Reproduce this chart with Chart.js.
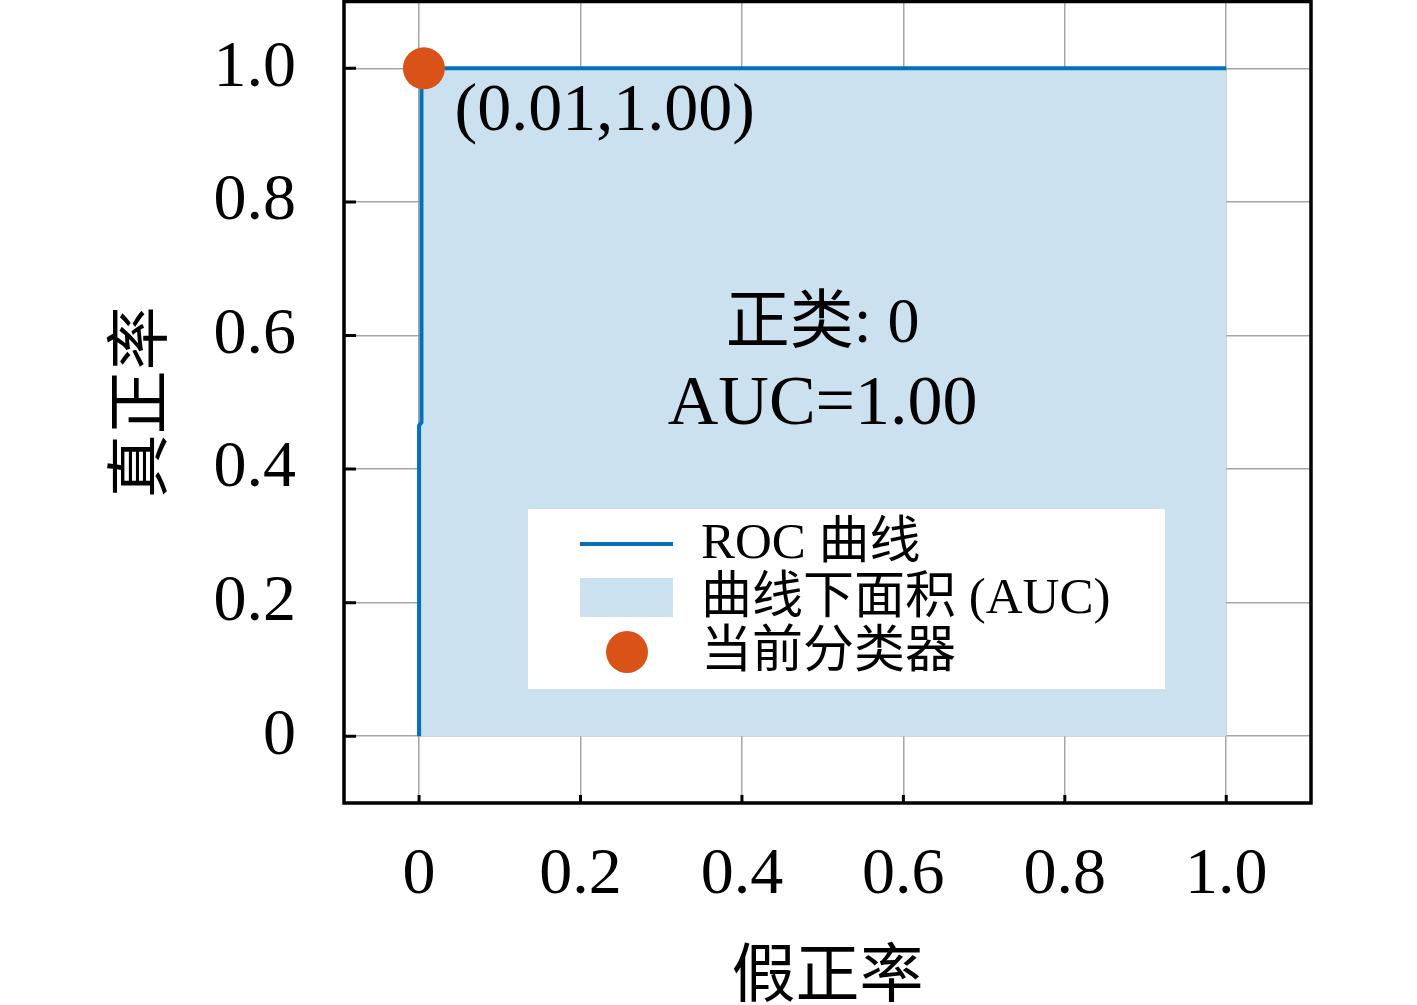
<!DOCTYPE html>
<html>
<head>
<meta charset="utf-8">
<script src="https://cdn.jsdelivr.net/npm/chart.js@4.4.1/dist/chart.umd.min.js"></script>
<style>
html, body { margin: 0; padding: 0; background: #ffffff; }
</style>
</head>
<body>
<canvas id="roc" width="1417" height="1005"></canvas>
<script>
// dados da curva ROC
const fpr = [0, 0, 0.003, 0.003, 1.0];
const tpr = [0, 0.465, 0.47, 1.0, 1.0];
const pontoX = [0.006];
const pontoY = [1.0];
const ticksX = [0, 0.2, 0.4, 0.6, 0.8, 1.0];
const ticksY = [0, 0.2, 0.4, 0.6, 0.8, 1.0];
const rotulos = ['ROC 曲线', '曲线下面积 (AUC)', '当前分类器'];
const textoClasse = ['正类: 0', 'AUC=1.00'];
const textoPonto = '(0.01,1.00)';

const corLinha = '#0072bd';
const corArea = '#cbe1f0';
const corPonto = '#d95319';
const serif = "'Liberation Serif', 'Noto Sans CJK SC'";

function rotuloTick(v) {
    return v === 0 ? '0' : v.toFixed(1);
}

const decoracao = {
    id: 'decoracao',
    afterDatasetsDraw(chart) {
        const ctx = chart.ctx;
        const x = chart.scales.x;
        const y = chart.scales.y;
        ctx.save();

        // textos dentro do grafico
        ctx.fillStyle = '#000000';
        ctx.textAlign = 'center';
        ctx.textBaseline = 'middle';
        ctx.font = '64px ' + serif;
        ctx.fillText(textoClasse[0], x.getPixelForValue(0.5), y.getPixelForValue(0.615));
        ctx.font = '70px ' + serif;
        ctx.fillText(textoClasse[1], x.getPixelForValue(0.5), y.getPixelForValue(0.495));
        ctx.textAlign = 'left';
        ctx.font = '68px ' + serif;
        ctx.fillText(textoPonto, x.getPixelForValue(0.044), y.getPixelForValue(0.935));

        // legenda
        ctx.fillStyle = '#ffffff';
        ctx.fillRect(528, 509, 637, 180);
        ctx.strokeStyle = corLinha;
        ctx.lineWidth = 4;
        ctx.beginPath();
        ctx.moveTo(580, 544);
        ctx.lineTo(673, 544);
        ctx.stroke();
        ctx.fillStyle = corArea;
        ctx.fillRect(580, 578, 93, 39);
        ctx.fillStyle = corPonto;
        ctx.beginPath();
        ctx.arc(627, 652, 21, 0, Math.PI * 2);
        ctx.fill();
        ctx.fillStyle = '#000000';
        ctx.font = '51px ' + serif;
        ctx.textAlign = 'left';
        ctx.fillText(rotulos[0], 701, 545);
        ctx.fillText(rotulos[1], 701, 600);
        ctx.fillText(rotulos[2], 701, 654);
        ctx.restore();
    },
    afterDraw(chart) {
        const ctx = chart.ctx;
        const a = chart.chartArea;
        const x = chart.scales.x;
        const y = chart.scales.y;
        ctx.save();
        ctx.strokeStyle = '#000000';
        ctx.lineWidth = 3;
        ctx.beginPath();
        ticksY.forEach(v => {
            const py = y.getPixelForValue(v);
            ctx.moveTo(a.left, py);
            ctx.lineTo(a.left + 12, py);
        });
        ticksX.forEach(v => {
            const px = x.getPixelForValue(v);
            ctx.moveTo(px, a.bottom);
            ctx.lineTo(px, a.bottom - 8);
        });
        ctx.stroke();
        ctx.lineWidth = 3.5;
        ctx.strokeRect(a.left, a.top, a.right - a.left, a.bottom - a.top);
        ctx.restore();
    }
};

new Chart(document.getElementById('roc'), {
    type: 'scatter',
    data: {
        datasets: [{
            label: rotulos[2],
            data: pontoX.map((v, i) => ({ x: v, y: pontoY[i] })),
            backgroundColor: corPonto,
            borderWidth: 0,
            pointRadius: 21,
            order: 0
        }, {
            label: rotulos[0],
            data: fpr.map((v, i) => ({ x: v, y: tpr[i] })),
            showLine: true,
            borderColor: corLinha,
            borderWidth: 4,
            backgroundColor: corArea,
            fill: 'origin',
            pointRadius: 0,
            tension: 0,
            order: 1
        }]
    },
    options: {
        responsive: false,
        animation: false,
        layout: {
            autoPadding: false,
            padding: { top: 1.5, right: 106, left: 0, bottom: 0 }
        },
        plugins: {
            legend: { display: false },
            tooltip: { enabled: false }
        },
        scales: {
            x: {
                type: 'linear',
                min: -0.093,
                max: 1.105,
                afterFit: s => {
                    s.height = 202;
                    s.paddingLeft = 0;
                    s.paddingRight = 0;
                },
                afterBuildTicks: s => { s.ticks = ticksX.map(v => ({ value: v })); },
                border: { display: false },
                grid: { color: '#a6a6a6', lineWidth: 1.5, drawTicks: false },
                ticks: {
                    color: '#000000',
                    padding: 40,
                    maxRotation: 0,
                    font: { family: serif, size: 66, lineHeight: 1 },
                    callback: rotuloTick
                },
                title: {
                    display: true,
                    text: '假正率',
                    color: '#000000',
                    padding: { top: 0, bottom: 1 },
                    font: { family: "'Noto Sans CJK SC'", size: 64, lineHeight: 1 }
                }
            },
            y: {
                type: 'linear',
                min: -0.1,
                max: 1.1,
                afterFit: s => {
                    s.width = 344;
                    s.paddingTop = 0;
                    s.paddingBottom = 0;
                },
                afterBuildTicks: s => { s.ticks = ticksY.map(v => ({ value: v })); },
                border: { display: false },
                grid: { color: '#a6a6a6', lineWidth: 1.5, drawTicks: false },
                ticks: {
                    color: '#000000',
                    padding: 48,
                    font: { family: serif, size: 66, lineHeight: 1 },
                    callback: rotuloTick
                },
                title: {
                    display: true,
                    text: '真正率',
                    color: '#000000',
                    padding: { top: 105, bottom: 0 },
                    font: { family: "'Noto Sans CJK SC'", size: 64, lineHeight: 1 }
                }
            }
        }
    },
    plugins: [decoracao]
});
</script>
</body>
</html>
